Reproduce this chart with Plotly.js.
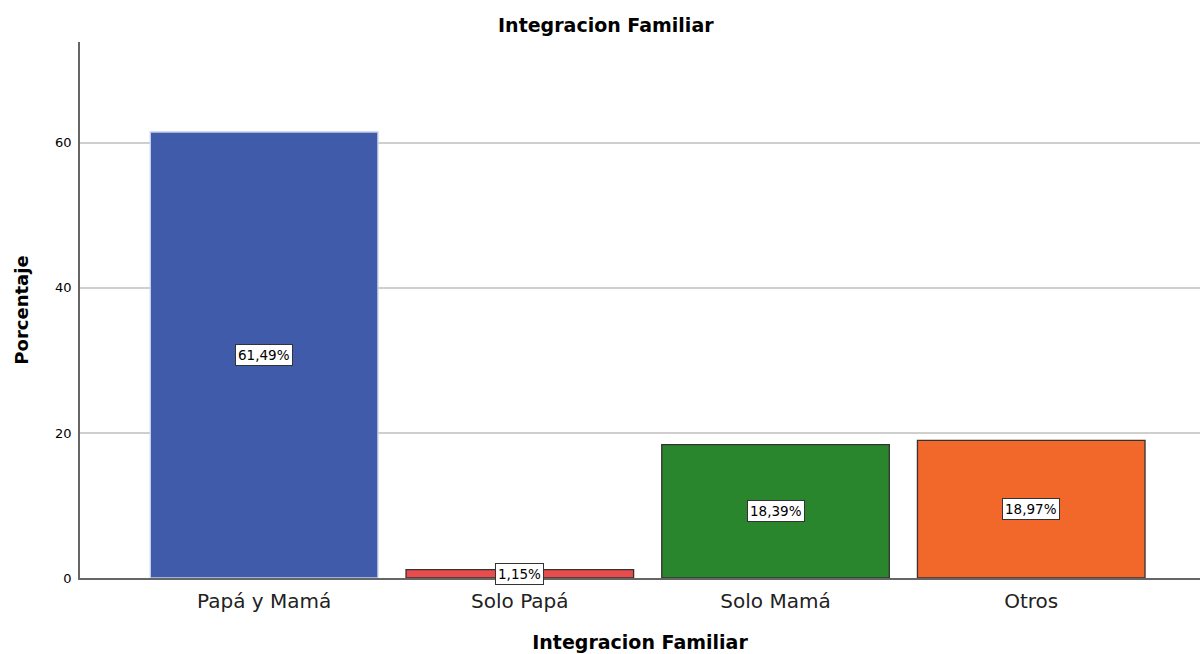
<!DOCTYPE html>
<html>
<head>
<meta charset="utf-8">
<script src="https://cdn.plot.ly/plotly-3.0.1.min.js"></script>
<style>
  html, body { margin: 0; padding: 0; background: #fff; }
  #chart { width: 1202px; height: 654px; }
</style>
</head>
<body>
<div id="chart"></div>
<script>
const categories = ["Papá y Mamá", "Solo Papá", "Solo Mamá", "Otros"];
const percentages = [61.49, 1.15, 18.39, 18.97];
const labels = ["61,49%", "1,15%", "18,39%", "18,97%"];
const colors = ["#3f5ba9", "#e84c4d", "#2a862c", "#f2672a"];

const font = "DejaVu Sans, Verdana, sans-serif";

Plotly.newPlot("chart", [
  {
    x: categories,
    y: percentages,
    type: "bar",
    width: 0.89,
    marker: {
      color: colors,
      line: { color: ["#c5cfe9", "#333333", "#333333", "#333333"], width: 1.3 }
    },
    hoverinfo: "none"
  }
], {
  width: 1202,
  height: 654,
  margin: { t: 42, r: 2, b: 76, l: 80 },
  paper_bgcolor: "#ffffff",
  plot_bgcolor: "#ffffff",
  showlegend: false,
  font: { family: font, color: "#000" },
  title: {
    text: "<b>Integracion Familiar</b>",
    font: { size: 19, family: font, color: "#000" },
    x: 0.504,
    xref: "container",
    y: 0.961,
    yref: "container",
    yanchor: "middle"
  },
  xaxis: {
    range: [-0.72, 3.66],
    showline: true,
    linecolor: "#666",
    linewidth: 1.5,
    ticks: "",
    ticklabelstandoff: 4,
    tickfont: { size: 20, family: font, color: "#222" },
    title: {
      text: "<b>Integracion Familiar</b>",
      font: { size: 19, family: font, color: "#000" },
      standoff: 24
    }
  },
  yaxis: {
    range: [0, 73.9],
    tickvals: [0, 20, 40, 60],
    showline: true,
    linecolor: "#666",
    linewidth: 1.5,
    showgrid: true,
    gridcolor: "#cfcfcf",
    gridwidth: 1.5,
    zeroline: false,
    ticks: "",
    ticklabelstandoff: 4,
    tickfont: { size: 13, family: font, color: "#000" },
    title: {
      text: "<b>Porcentaje</b>",
      font: { size: 18, family: font, color: "#000" },
      standoff: 22
    }
  },
  annotations: categories.map((c, i) => ({
    x: c,
    y: percentages[i] / 2,
    xref: "x",
    yref: "y",
    text: labels[i],
    showarrow: false,
    font: { size: 13.5, family: font, color: "#000" },
    bgcolor: "#ffffff",
    bordercolor: "#333333",
    borderwidth: 1,
    borderpad: 2
  }))
}, { displayModeBar: false });
</script>
</body>
</html>
